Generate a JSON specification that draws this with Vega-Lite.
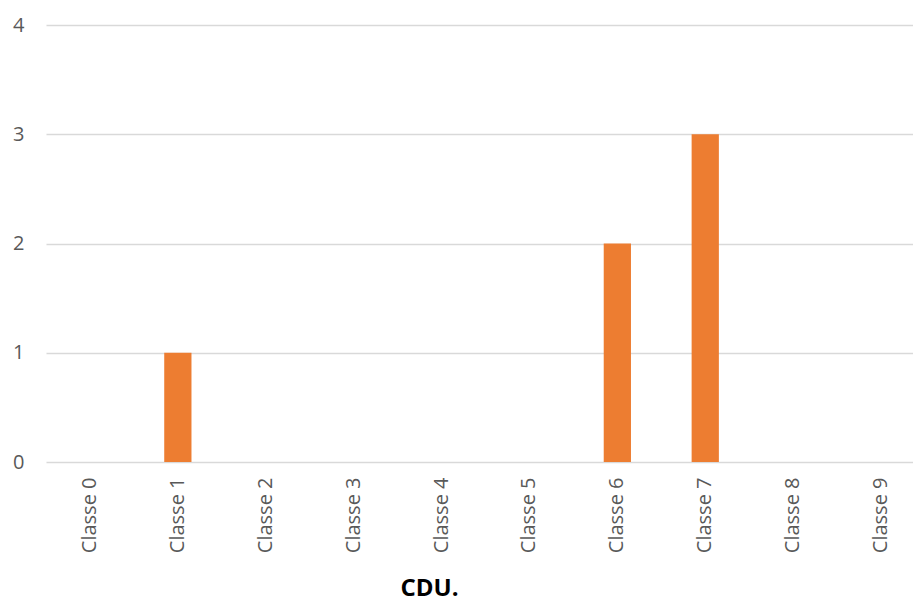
{
  "$schema": "https://vega.github.io/schema/vega-lite/v6.json",
  "autosize": {"type": "none"},
  "width": 868,
  "height": 437,
  "padding": {"left": 45, "top": 25, "right": 0, "bottom": 141},
  "background": "white",
  "data": {"values": [
    {"classe": "Classe 0", "valeur": 0},
    {"classe": "Classe 1", "valeur": 1},
    {"classe": "Classe 2", "valeur": 0},
    {"classe": "Classe 3", "valeur": 0},
    {"classe": "Classe 4", "valeur": 0},
    {"classe": "Classe 5", "valeur": 0},
    {"classe": "Classe 6", "valeur": 2},
    {"classe": "Classe 7", "valeur": 3},
    {"classe": "Classe 8", "valeur": 0},
    {"classe": "Classe 9", "valeur": 0}
  ]},
  "mark": {"type": "bar", "color": "#ED7D31"},
  "encoding": {
    "x": {
      "field": "classe", "type": "nominal", "sort": null,
      "scale": {"paddingInner": 0.69, "paddingOuter": 0.345, "range": [1, 880]},
      "axis": {
        "title": "CDU.", "titleFont": "Open Sans", "titleFontSize": 24, "titleFontWeight": "bold",
        "titleColor": "#000000", "titleX": 384, "titleY": 133, "titleBaseline": "alphabetic", "titleAnchor": "middle", "titleAlign": "center",
        "labelAngle": -90, "labelFont": "Open Sans", "labelFontSize": 20, "labelColor": "#595959",
        "labelPadding": 15, "ticks": false, "domain": false, "grid": false
      }
    },
    "y": {
      "field": "valeur", "type": "quantitative",
      "scale": {"domain": [0, 4], "nice": false},
      "axis": {
        "title": null, "values": [0, 1, 2, 3, 4], "format": "d",
        "labelFont": "Open Sans", "labelFontSize": 20, "labelColor": "#595959",
        "labelPadding": 21, "ticks": false, "domain": false,
        "grid": true, "gridColor": "#d9d9d9", "gridWidth": 1.5
      }
    }
  },
  "config": {"view": {"stroke": null}}
}
